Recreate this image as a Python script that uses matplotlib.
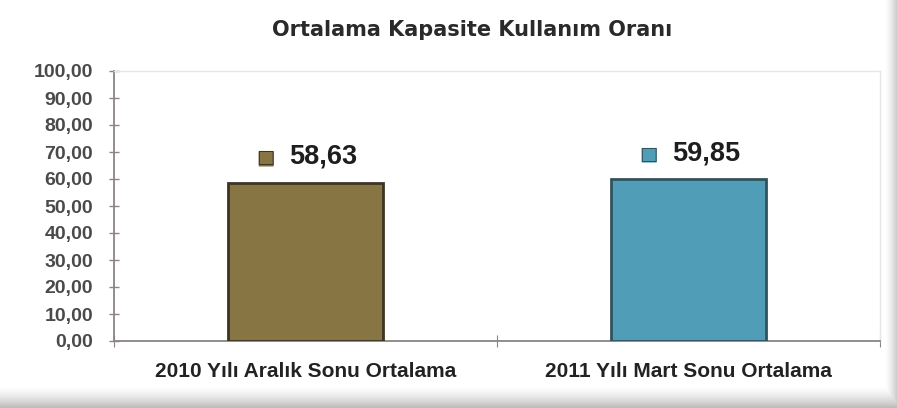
import numpy as np
import matplotlib.pyplot as plt
from matplotlib.ticker import FuncFormatter

# Veriler
kategoriler = ["2010 Yılı Aralık Sonu Ortalama", "2011 Yılı Mart Sonu Ortalama"]
oranlar = [58.63, 59.85]
renkler = ["#877544", "#4f9db6"]
kenar_renkleri = ["#3b3524", "#34525c"]
baslik = "Ortalama Kapasite Kullanım Oranı"

fig = plt.figure(figsize=(8.97, 4.08), dpi=100)

# Arka plan: alt ve sag kenarda hafif golge
bg = fig.add_axes([0, 0, 1, 1], zorder=-10)
h, w = 408, 897
yy, xx = np.mgrid[0:h, 0:w]
golge = np.zeros((h, w))
golge = np.maximum(golge, np.clip((yy - 385) / 23.0, 0, 1) ** 1.5 * 0.28)
golge = np.maximum(golge, np.clip((xx - 884) / 13.0, 0, 1) ** 1.5 * 0.22)
bg.imshow(1 - golge, cmap="gray", vmin=0, vmax=1, aspect="auto",
          origin="upper", interpolation="bilinear")
bg.axis("off")

ax = fig.add_axes([114 / 897, 1 - 341 / 408, (880 - 114) / 897, (341 - 71) / 408])
ax.patch.set_alpha(0)

x = np.arange(len(kategoriler))
ax.bar(x, oranlar, width=0.405, color=renkler, edgecolor=kenar_renkleri,
       linewidth=2, zorder=3)

ax.set_xlim(-0.5, 1.5)
ax.set_ylim(0, 100)
ax.set_yticks(np.arange(0, 101, 10))
ax.yaxis.set_major_formatter(FuncFormatter(lambda v, p: f"{v:.2f}".replace(".", ",")))
ax.tick_params(axis="y", direction="inout", length=7, width=1, color="#8a8484",
               labelsize=14, labelcolor="#4a4a4a", pad=11.5)
for lab in ax.get_yticklabels():
    lab.set_family("Liberation Sans")
    lab.set_fontweight("bold")

# Kategori sinirlarinda isaretler, etiketler ortada
ax.set_xticks([-0.5, 0.5, 1.5])
ax.set_xticklabels([])
ax.set_xticks(x, minor=True)
ax.set_xticklabels(kategoriler, minor=True, fontsize=15, fontweight="bold",
                   family="Liberation Sans", color="#222222")
ax.tick_params(axis="x", which="major", direction="inout", length=8,
               color="#8a8484")
ax.tick_params(axis="x", which="minor", length=0, pad=15)

for s in ["left", "bottom"]:
    ax.spines[s].set_color("#8a8484")
    ax.spines[s].set_linewidth(1.3)
for s in ["top", "right"]:
    ax.spines[s].set_color("#e6e6e6")
    ax.spines[s].set_linewidth(1)

# Deger etiketleri: kucuk kare + deger
for xi, v, c, ec in zip(x, oranlar, renkler, kenar_renkleri):
    ax.annotate("■", (xi, v), xytext=(-29, 18), textcoords="offset points",
                ha="center", va="center", fontsize=14, color=c,
                family="DejaVu Sans")
    ax.annotate("□", (xi, v), xytext=(-29, 18), textcoords="offset points",
                ha="center", va="center", fontsize=14, color=ec,
                family="DejaVu Sans")
    ax.annotate(f"{v:.2f}".replace(".", ","), (xi, v), xytext=(-12, 19),
                textcoords="offset points", ha="left", va="center",
                fontsize=19.5, fontweight="bold", family="Liberation Sans",
                color="#1e1e1e")

fig.text(0.526, 1 - 30 / 408, baslik, ha="center", va="center", fontsize=15,
         fontweight="bold", family="DejaVu Sans", color="#2a2a2a")

fig.savefig("out.png", dpi=100)
